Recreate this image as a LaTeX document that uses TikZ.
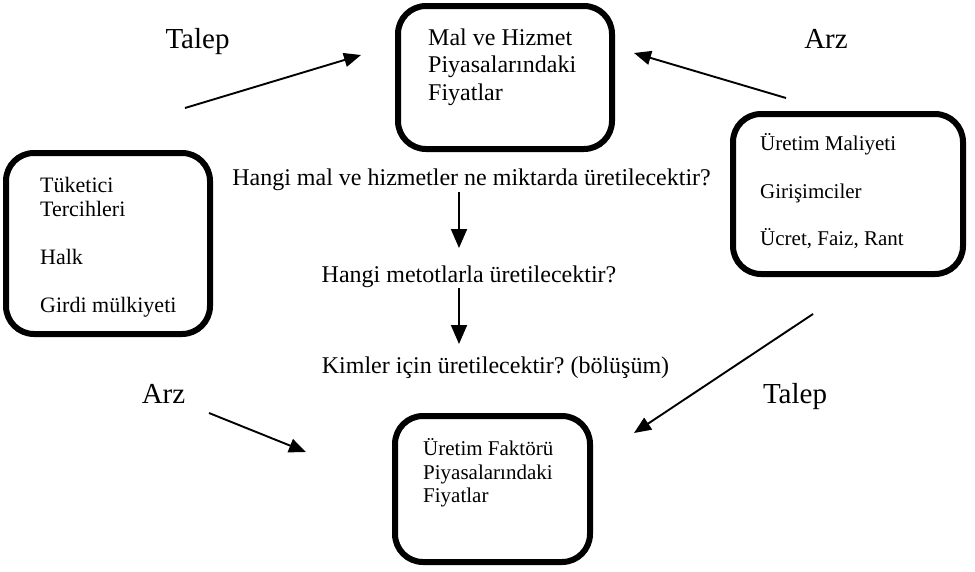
\documentclass[tikz,border=0pt]{standalone}
\usepackage{fontspec}
\setmainfont{Liberation Serif}
\usetikzlibrary{arrows.meta}
\frenchspacing
\begin{document}
\begin{tikzpicture}[x=1pt,y=-1pt,
  panel/.style={draw, line width=6pt, rounded corners=28pt, inner sep=0pt},
  line/.style={anchor=base west, inner sep=0pt},
  big/.style={font=\fontsize{24}{28}\selectfont},
  mid/.style={font=\fontsize{22}{26}\selectfont},
  small/.style={font=\fontsize{21}{25}\selectfont},
  flowlabel/.style={anchor=base, inner sep=0pt, font=\fontsize{29}{34}\selectfont},
  question/.style={anchor=base, inner sep=0pt, font=\fontsize{24}{28}\selectfont},
  link/.style={line width=1.9pt, -{Triangle[length=17pt,width=14pt]}},
  steplink/.style={line width=1.9pt, -{Triangle[length=19pt,width=16pt]}}]
\useasboundingbox (0,0) rectangle (975,571);

% the four market / actor panels
\node[panel, minimum width=214pt, minimum height=143pt] (goods) at (505,77.5) {};
\node[panel, minimum width=204pt, minimum height=181pt] (households) at (108,243.5) {};
\node[panel, minimum width=230pt, minimum height=160pt] (firms) at (848,194) {};
\node[panel, minimum width=195pt, minimum height=146pt] (factors) at (492.5,489) {};

% panel contents, one node per line
\node[line, big] (g1) at (428,45) {Mal ve Hizmet};
\node[line, big] (g2) at (428,72.5) {Piyasalarındaki};
\node[line, big] (g3) at (428,100) {Fiyatlar};

\node[line, mid] (h1) at (40,192) {Tüketici};
\node[line, mid] (h2) at (40,216) {Tercihleri};
\node[line, mid] (h3) at (40,264) {Halk};
\node[line, mid] (h4) at (40,312) {Girdi mülkiyeti};

\node[line, small] (f1) at (760,150) {Üretim Maliyeti};
\node[line, small] (f2) at (760,198) {Girişimciler};
\node[line, small] (f3) at (760,245) {Ücret, Faiz, Rant};

\node[line, small] (p1) at (423,455) {Üretim Faktörü};
\node[line, small] (p2) at (423,479) {Piyasalarındaki};
\node[line, small] (p3) at (423,502) {Fiyatlar};

% the three basic questions
\node[question] (q1) at (471.5,185) {Hangi mal ve hizmetler ne miktarda üretilecektir?};
\node[question] (q2) at (469,282) {Hangi metotlarla üretilecektir?};
\node[question] (q3) at (495.5,373) {Kimler için üretilecektir? (bölüşüm)};
\coordinate (q1b) at (459,192);
\coordinate (q2t) at (459,248);
\coordinate (q2b) at (459,288);
\coordinate (q3t) at (459,344);
\draw[steplink] (q1b) -- (q2t);
\draw[steplink] (q2b) -- (q3t);

% supply / demand labels
\node[flowlabel] (talepTop) at (197.5,48) {Talep};
\node[flowlabel] (arzTop) at (826,48) {Arz};
\node[flowlabel] (arzBot) at (163.5,403) {Arz};
\node[flowlabel] (talepBot) at (795,403) {Talep};

% flows between panels
\coordinate (tlA) at (185,108);
\coordinate (tlB) at (361,55);
\coordinate (trA) at (786,98);
\coordinate (trB) at (634,53);
\coordinate (blA) at (209,413);
\coordinate (blB) at (306,452);
\coordinate (brA) at (813,314);
\coordinate (brB) at (634,433);
\draw[link] (tlA) -- (tlB);
\draw[link] (trA) -- (trB);
\draw[link] (blA) -- (blB);
\draw[link] (brA) -- (brB);
\end{tikzpicture}
\end{document}
